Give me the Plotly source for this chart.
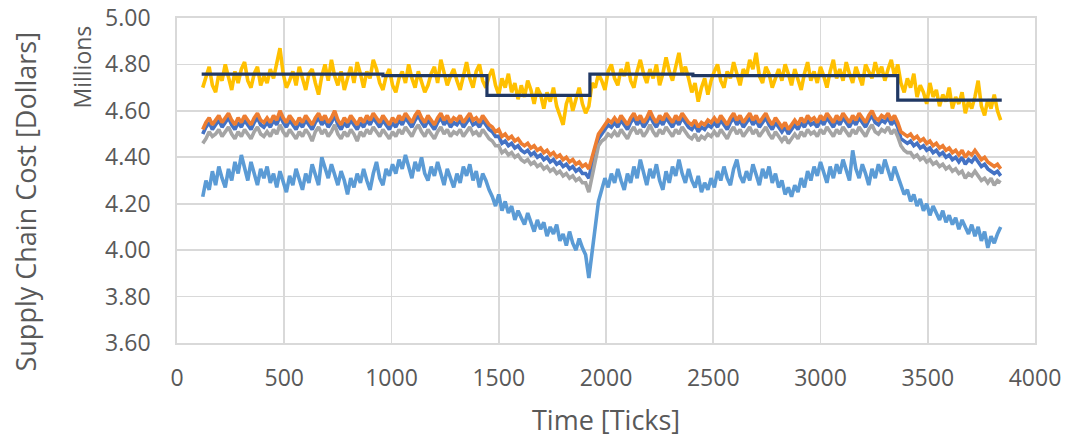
import plotly.graph_objects as go

# sampling grid (ticks), every 15 ticks from 120 to 3840
ticks = list(range(120, 3841, 15))

light_blue = [
    4.23, 4.30, 4.26, 4.34, 4.28, 4.36, 4.31, 4.27, 4.35, 4.30,
    4.38, 4.33, 4.41, 4.36, 4.30, 4.38, 4.33, 4.28, 4.35, 4.31,
    4.36, 4.29, 4.33, 4.27, 4.34, 4.30, 4.25, 4.32, 4.28, 4.35,
    4.30, 4.26, 4.33, 4.29, 4.37, 4.32, 4.28, 4.40, 4.35, 4.31,
    4.37, 4.33, 4.28, 4.34, 4.30, 4.24, 4.31, 4.27, 4.33, 4.29,
    4.35, 4.30, 4.26, 4.33, 4.38, 4.31, 4.28, 4.35, 4.32, 4.37,
    4.33, 4.39, 4.35, 4.41, 4.36, 4.31, 4.38, 4.34, 4.40, 4.33,
    4.30, 4.36, 4.32, 4.38, 4.33, 4.28, 4.35, 4.31, 4.27, 4.33,
    4.29, 4.36, 4.32, 4.37, 4.30, 4.34, 4.27, 4.33, 4.30, 4.26,
    4.23, 4.19, 4.24, 4.17, 4.21, 4.16, 4.19, 4.13, 4.17, 4.14,
    4.11, 4.16, 4.12, 4.08, 4.13, 4.09, 4.12, 4.06, 4.10, 4.07,
    4.11, 4.04, 4.07, 4.02, 4.08, 4.03, 4.00, 4.05, 4.01, 3.98,
    3.88, 3.99, 4.12, 4.21, 4.26, 4.31, 4.27, 4.33, 4.29, 4.35,
    4.30, 4.26, 4.33, 4.29, 4.36, 4.31, 4.39, 4.33, 4.28, 4.35,
    4.31, 4.37, 4.30, 4.26, 4.34, 4.29, 4.36, 4.32, 4.39, 4.33,
    4.29, 4.35, 4.30, 4.27, 4.32, 4.25, 4.29, 4.26, 4.31, 4.27,
    4.34, 4.30, 4.36, 4.31, 4.28, 4.35, 4.39, 4.32, 4.29, 4.34,
    4.30, 4.37, 4.33, 4.28, 4.35, 4.31, 4.36, 4.29, 4.33, 4.27,
    4.30, 4.24, 4.27, 4.23, 4.28, 4.25, 4.31, 4.27, 4.34, 4.30,
    4.36, 4.32, 4.38, 4.33, 4.29, 4.36, 4.31, 4.37, 4.33, 4.39,
    4.34, 4.30, 4.43, 4.35, 4.31, 4.37, 4.33, 4.28, 4.35, 4.31,
    4.37, 4.33, 4.39, 4.34, 4.30, 4.36, 4.32, 4.27, 4.24, 4.26,
    4.21, 4.24, 4.19, 4.22, 4.17, 4.20, 4.15, 4.19, 4.16, 4.13,
    4.17, 4.12, 4.15, 4.11, 4.14, 4.09, 4.13, 4.10, 4.07, 4.11,
    4.06, 4.10, 4.04, 4.08, 4.01, 4.06, 4.03, 4.07, 4.10]

dark_blue = [
    4.50, 4.53, 4.55, 4.52, 4.54, 4.56, 4.53, 4.55, 4.57, 4.54,
    4.52, 4.55, 4.53, 4.56, 4.54, 4.52, 4.55, 4.57, 4.54, 4.53,
    4.55, 4.53, 4.56, 4.54, 4.58, 4.55, 4.53, 4.56, 4.54, 4.52,
    4.55, 4.53, 4.56, 4.54, 4.52, 4.55, 4.57, 4.54, 4.56, 4.53,
    4.55, 4.58, 4.54, 4.52, 4.55, 4.53, 4.56, 4.54, 4.52, 4.55,
    4.53, 4.56, 4.54, 4.57, 4.55, 4.53, 4.56, 4.54, 4.52, 4.55,
    4.53, 4.56, 4.54, 4.57, 4.55, 4.53, 4.56, 4.58, 4.55, 4.53,
    4.56, 4.54, 4.52, 4.55, 4.57, 4.54, 4.56, 4.53, 4.55, 4.54,
    4.56, 4.53, 4.55, 4.57, 4.54, 4.55, 4.53, 4.56, 4.54, 4.52,
    4.51, 4.49, 4.49, 4.46, 4.47, 4.45, 4.46, 4.44, 4.45, 4.43,
    4.42, 4.43, 4.41, 4.42, 4.40, 4.41, 4.39, 4.40, 4.38, 4.39,
    4.37, 4.38, 4.36, 4.37, 4.35, 4.36, 4.34, 4.35, 4.33, 4.33,
    4.31, 4.37, 4.44, 4.48, 4.50, 4.52, 4.54, 4.53, 4.55, 4.53,
    4.56, 4.54, 4.52, 4.55, 4.57, 4.54, 4.56, 4.53, 4.55, 4.58,
    4.55, 4.53, 4.56, 4.54, 4.57, 4.55, 4.53, 4.56, 4.54, 4.57,
    4.55, 4.53, 4.52, 4.54, 4.51, 4.53, 4.52, 4.54, 4.53, 4.55,
    4.53, 4.56, 4.54, 4.52, 4.55, 4.57, 4.54, 4.56, 4.53, 4.55,
    4.57, 4.54, 4.56, 4.53, 4.55, 4.57, 4.54, 4.52, 4.55, 4.53,
    4.51, 4.53, 4.50, 4.52, 4.54, 4.52, 4.55, 4.53, 4.56, 4.54,
    4.55, 4.53, 4.56, 4.54, 4.57, 4.55, 4.53, 4.56, 4.54, 4.57,
    4.55, 4.53, 4.56, 4.54, 4.57, 4.55, 4.53, 4.56, 4.58, 4.55,
    4.54, 4.56, 4.55, 4.57, 4.54, 4.56, 4.53, 4.48, 4.47, 4.46,
    4.47, 4.45, 4.46, 4.44, 4.45, 4.43, 4.44, 4.42, 4.43, 4.41,
    4.42, 4.40, 4.41, 4.39, 4.40, 4.38, 4.40, 4.37, 4.39, 4.38,
    4.40, 4.38, 4.36, 4.37, 4.35, 4.34, 4.33, 4.34, 4.32]

gray = [
    4.46, 4.48, 4.51, 4.49, 4.50, 4.52, 4.49, 4.51, 4.53, 4.50,
    4.48, 4.51, 4.49, 4.52, 4.50, 4.48, 4.51, 4.53, 4.50, 4.49,
    4.51, 4.49, 4.52, 4.50, 4.54, 4.51, 4.49, 4.52, 4.50, 4.48,
    4.51, 4.49, 4.52, 4.50, 4.47, 4.51, 4.53, 4.50, 4.52, 4.49,
    4.51, 4.54, 4.50, 4.48, 4.51, 4.49, 4.52, 4.50, 4.47, 4.51,
    4.49, 4.52, 4.50, 4.53, 4.51, 4.49, 4.52, 4.50, 4.48, 4.51,
    4.49, 4.52, 4.50, 4.53, 4.51, 4.49, 4.52, 4.54, 4.51, 4.49,
    4.52, 4.50, 4.48, 4.51, 4.53, 4.50, 4.52, 4.49, 4.51, 4.50,
    4.52, 4.49, 4.51, 4.53, 4.50, 4.51, 4.49, 4.52, 4.50, 4.48,
    4.47, 4.45, 4.45, 4.42, 4.43, 4.41, 4.42, 4.40, 4.41, 4.39,
    4.38, 4.39, 4.37, 4.38, 4.36, 4.37, 4.35, 4.36, 4.34, 4.35,
    4.33, 4.34, 4.32, 4.33, 4.31, 4.32, 4.30, 4.31, 4.29, 4.29,
    4.25, 4.32, 4.40, 4.45, 4.47, 4.48, 4.50, 4.49, 4.51, 4.49,
    4.52, 4.50, 4.48, 4.51, 4.53, 4.50, 4.52, 4.49, 4.51, 4.54,
    4.51, 4.49, 4.52, 4.50, 4.53, 4.51, 4.49, 4.52, 4.50, 4.53,
    4.51, 4.49, 4.48, 4.50, 4.47, 4.49, 4.48, 4.50, 4.49, 4.51,
    4.49, 4.52, 4.50, 4.48, 4.51, 4.53, 4.50, 4.52, 4.49, 4.51,
    4.53, 4.50, 4.52, 4.49, 4.51, 4.53, 4.50, 4.48, 4.51, 4.49,
    4.47, 4.49, 4.46, 4.48, 4.50, 4.48, 4.51, 4.49, 4.52, 4.50,
    4.51, 4.49, 4.52, 4.50, 4.53, 4.51, 4.49, 4.52, 4.50, 4.53,
    4.51, 4.49, 4.52, 4.50, 4.53, 4.51, 4.49, 4.52, 4.54, 4.51,
    4.50, 4.52, 4.51, 4.53, 4.50, 4.52, 4.49, 4.45, 4.43, 4.42,
    4.42, 4.40, 4.41, 4.39, 4.40, 4.38, 4.39, 4.37, 4.38, 4.36,
    4.37, 4.35, 4.36, 4.34, 4.35, 4.33, 4.34, 4.31, 4.33, 4.32,
    4.34, 4.32, 4.30, 4.31, 4.29, 4.31, 4.28, 4.30, 4.29]

orange = [
    4.52, 4.55, 4.57, 4.54, 4.56, 4.58, 4.55, 4.57, 4.59, 4.56,
    4.54, 4.57, 4.55, 4.58, 4.56, 4.54, 4.57, 4.59, 4.56, 4.55,
    4.57, 4.55, 4.58, 4.56, 4.60, 4.57, 4.55, 4.58, 4.56, 4.54,
    4.57, 4.55, 4.58, 4.56, 4.54, 4.57, 4.59, 4.56, 4.58, 4.55,
    4.57, 4.60, 4.56, 4.54, 4.57, 4.55, 4.58, 4.56, 4.54, 4.57,
    4.55, 4.58, 4.56, 4.59, 4.57, 4.55, 4.58, 4.56, 4.54, 4.57,
    4.55, 4.58, 4.56, 4.59, 4.57, 4.55, 4.58, 4.60, 4.57, 4.55,
    4.58, 4.56, 4.54, 4.57, 4.59, 4.56, 4.58, 4.55, 4.57, 4.56,
    4.58, 4.55, 4.57, 4.59, 4.56, 4.57, 4.55, 4.58, 4.56, 4.54,
    4.53, 4.51, 4.52, 4.49, 4.50, 4.48, 4.49, 4.47, 4.48, 4.46,
    4.45, 4.46, 4.44, 4.45, 4.43, 4.44, 4.42, 4.43, 4.41, 4.42,
    4.40, 4.41, 4.39, 4.40, 4.38, 4.39, 4.37, 4.38, 4.36, 4.37,
    4.35, 4.40, 4.46, 4.50, 4.52, 4.54, 4.56, 4.55, 4.57, 4.55,
    4.58, 4.56, 4.54, 4.57, 4.59, 4.56, 4.58, 4.55, 4.57, 4.60,
    4.57, 4.55, 4.58, 4.56, 4.59, 4.57, 4.55, 4.58, 4.56, 4.59,
    4.57, 4.55, 4.54, 4.56, 4.53, 4.55, 4.54, 4.56, 4.55, 4.57,
    4.55, 4.58, 4.56, 4.54, 4.57, 4.59, 4.56, 4.58, 4.55, 4.57,
    4.59, 4.56, 4.58, 4.55, 4.57, 4.59, 4.56, 4.54, 4.57, 4.55,
    4.53, 4.55, 4.52, 4.54, 4.56, 4.54, 4.57, 4.55, 4.58, 4.56,
    4.57, 4.55, 4.58, 4.56, 4.59, 4.57, 4.55, 4.58, 4.56, 4.59,
    4.57, 4.55, 4.58, 4.56, 4.59, 4.57, 4.55, 4.58, 4.60, 4.57,
    4.56, 4.58, 4.57, 4.59, 4.56, 4.58, 4.55, 4.51, 4.50, 4.49,
    4.50, 4.48, 4.49, 4.47, 4.48, 4.46, 4.47, 4.45, 4.46, 4.44,
    4.45, 4.43, 4.44, 4.42, 4.43, 4.41, 4.43, 4.40, 4.42, 4.41,
    4.43, 4.41, 4.39, 4.40, 4.38, 4.37, 4.36, 4.37, 4.35]

yellow = [
    4.70, 4.74, 4.79, 4.71, 4.68, 4.76, 4.73, 4.80, 4.75, 4.69,
    4.77, 4.72, 4.78, 4.81, 4.73, 4.70, 4.76, 4.79, 4.71, 4.75,
    4.72, 4.78, 4.74, 4.80, 4.87, 4.76, 4.70, 4.73, 4.77, 4.71,
    4.79, 4.74, 4.69, 4.76, 4.78, 4.72, 4.67, 4.75, 4.80, 4.73,
    4.82, 4.75, 4.71, 4.77, 4.69, 4.74, 4.79, 4.72, 4.81, 4.76,
    4.70, 4.77, 4.74, 4.82, 4.78, 4.72, 4.69, 4.75, 4.78, 4.71,
    4.68, 4.74, 4.77, 4.72, 4.80, 4.74, 4.70, 4.77, 4.73, 4.68,
    4.71, 4.76, 4.79, 4.72, 4.82, 4.77, 4.71, 4.75, 4.78, 4.73,
    4.69, 4.75, 4.81, 4.74, 4.70, 4.77, 4.80, 4.73, 4.70, 4.75,
    4.78, 4.71, 4.67, 4.74, 4.70, 4.76, 4.68, 4.72, 4.65, 4.71,
    4.66, 4.73, 4.69, 4.63, 4.70, 4.67, 4.61, 4.68, 4.64, 4.70,
    4.62, 4.58, 4.54, 4.63, 4.67, 4.60, 4.65, 4.70, 4.63, 4.59,
    4.62, 4.72, 4.70, 4.76, 4.73, 4.69, 4.77, 4.80, 4.74, 4.71,
    4.78, 4.75, 4.81, 4.73, 4.70, 4.77, 4.82, 4.76, 4.72, 4.78,
    4.74, 4.80, 4.71, 4.76, 4.83, 4.77, 4.73, 4.79, 4.85, 4.76,
    4.79, 4.74, 4.68, 4.72, 4.64, 4.70, 4.74, 4.67, 4.73, 4.77,
    4.80, 4.73, 4.70, 4.77, 4.74, 4.81, 4.76, 4.71, 4.78, 4.75,
    4.82, 4.78, 4.85, 4.75, 4.72, 4.79, 4.76, 4.70, 4.74, 4.78,
    4.73, 4.80, 4.76, 4.71, 4.78, 4.74, 4.69, 4.76, 4.81, 4.73,
    4.77, 4.72, 4.79, 4.75, 4.70, 4.77, 4.82, 4.74, 4.78, 4.73,
    4.81, 4.76, 4.72, 4.79, 4.75, 4.71, 4.80, 4.77, 4.74, 4.81,
    4.76, 4.79, 4.73, 4.78, 4.82, 4.75, 4.80, 4.72, 4.68, 4.74,
    4.70, 4.76, 4.66, 4.71, 4.68, 4.63, 4.72, 4.66, 4.69, 4.62,
    4.67, 4.64, 4.70, 4.61, 4.66, 4.63, 4.68, 4.59, 4.64, 4.61,
    4.66, 4.73, 4.62, 4.58, 4.65, 4.61, 4.67, 4.60, 4.56]

step_ticks = [115, 960, 1445, 1925, 2405, 3360, 3845]
step_values = [4.758, 4.752, 4.667, 4.758, 4.752, 4.646, 4.646]

x_tick_vals = [0, 500, 1000, 1500, 2000, 2500, 3000, 3500, 4000]
y_tick_vals = [3.6, 3.8, 4.0, 4.2, 4.4, 4.6, 4.8, 5.0]

FONT = "Open Sans"
TXT = "#595959"
GRID = "#d9d9d9"

fig = go.Figure()
series = [
    (light_blue, "#5B9BD5"),
    (dark_blue, "#4472C4"),
    (gray, "#A5A5A5"),
    (orange, "#ED7D31"),
    (yellow, "#FFC000"),
]
for vals, col in series:
    fig.add_trace(go.Scatter(x=ticks, y=vals, mode="lines",
                             line=dict(color=col, width=3.6), showlegend=False,
                             hoverinfo="skip"))
fig.add_trace(go.Scatter(x=step_ticks, y=step_values, mode="lines",
                         line=dict(color="#203864", width=3.2, shape="hv"),
                         showlegend=False, hoverinfo="skip"))

# plot area on screen: x 177..1035, y 18..343 (page body margin removed below)
PX0, PX1, PY0, PY1 = 177, 1035, 18, 343
W, H = 1073, 438
L, T = PX0, PY0
R, B = W - PX1, H - PY1
pw, ph = PX1 - PX0, PY1 - PY0


def px(sx):
    return (sx - PX0) / pw


def py(sy):
    return (PY1 - sy) / ph


fig.update_layout(
    width=W, height=H,
    margin=dict(l=L, r=R, t=T, b=B, autoexpand=False),
    paper_bgcolor="white", plot_bgcolor="white",
    font=dict(family=FONT, color=TXT, size=23),
    xaxis=dict(range=[0, 4000], tickvals=x_tick_vals,
               ticktext=[str(v) for v in x_tick_vals],
               showgrid=True, gridcolor=GRID, gridwidth=1.8,
               zeroline=False, showline=True, linecolor=GRID, linewidth=1.8,
               mirror=True, ticks="", ticklabelstandoff=14, automargin=False,
               ticklabeloverflow="allow",
               tickfont=dict(family=FONT, size=23, color=TXT)),
    yaxis=dict(range=[3.6, 5.0], tickvals=y_tick_vals,
               ticktext=[f"{v:.2f}" for v in y_tick_vals],
               showgrid=True, gridcolor=GRID, gridwidth=1.8,
               zeroline=False, showline=True, linecolor=GRID, linewidth=1.8,
               mirror=True, ticks="", ticklabelstandoff=20, automargin=False,
               ticklabeloverflow="allow",
               tickfont=dict(family=FONT, size=23, color=TXT)),
    annotations=[
        dict(text="Supply Chain Cost [Dollars]", textangle=-90,
             xref="paper", yref="paper", x=px(25), y=py(201.5),
             xanchor="center", yanchor="middle", showarrow=False,
             font=dict(family=FONT, size=27, color=TXT)),
        dict(text="Millions", textangle=-90,
             xref="paper", yref="paper", x=px(82), y=py(67.5),
             xanchor="center", yanchor="middle", showarrow=False,
             font=dict(family=FONT, size=23, color=TXT)),
        dict(text="Time [Ticks]",
             xref="paper", yref="paper", x=0.5, y=py(419),
             xanchor="center", yanchor="middle", showarrow=False,
             font=dict(family=FONT, size=27, color=TXT)),
    ],
)

fig.write_html(
    "out.html",
    config={"displayModeBar": False, "staticPlot": True},
    post_script="document.body.style.margin='0px';"
                "document.body.style.overflow='hidden';",
)
